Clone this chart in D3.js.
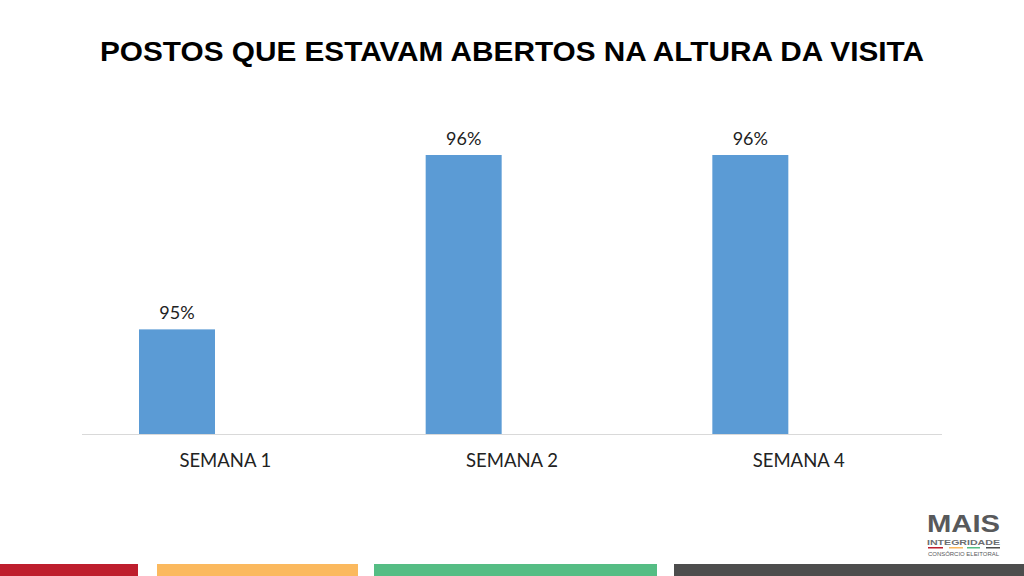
<!DOCTYPE html>
<html><head><meta charset="utf-8">
<script src="https://cdn.jsdelivr.net/npm/d3@7"></script>
<style>body{margin:0;background:#fff}svg{display:block}</style>
</head><body>
<svg id="c" width="1024" height="576"></svg>
<script>
const categories = ["SEMANA 1", "SEMANA 2", "SEMANA 4"];
const values = [0.95, 0.96, 0.96];
const valueLabels = ["95%", "96%", "96%"];
const title = "POSTOS QUE ESTAVAM ABERTOS NA ALTURA DA VISITA";
const footerColors = ["#be1e2d", "#fbb95e", "#55bd84", "#4d4d4d"];

const svg = d3.select("#c");
const x0 = d3.scaleBand().domain(categories).range([82, 942]).padding(0);
const xs = d3.scaleBand().domain(["valor", "vazio"]).range([57, 209]).padding(0);
const y = d3.scaleLinear().domain([0.944, 0.96]).range([434, 155]);

svg.append("text").attr("x", 512).attr("y", 61).attr("text-anchor", "middle")
  .attr("font-family", "Liberation Sans, Arial, sans-serif").attr("font-weight", "bold")
  .attr("font-size", 28).attr("textLength", 824).attr("lengthAdjust", "spacingAndGlyphs")
  .attr("fill", "#000").text(title);

svg.append("line").attr("x1", 82).attr("x2", 942).attr("y1", 434.5).attr("y2", 434.5)
  .attr("stroke", "#d9d9d9").attr("stroke-width", 1);

const g = svg.append("g");
g.selectAll("rect.bar").data(values).join("rect").attr("class", "bar")
  .attr("x", (d, i) => x0(categories[i]) + xs("valor"))
  .attr("width", xs.bandwidth())
  .attr("y", d => y(d)).attr("height", d => y.range()[0] - y(d))
  .attr("fill", "#5b9bd5");

g.selectAll("text.val").data(values).join("text").attr("class", "val")
  .attr("x", (d, i) => x0(categories[i]) + xs("valor") + xs.bandwidth() / 2)
  .attr("y", d => y(d) - 10).attr("text-anchor", "middle")
  .attr("font-family", "Lato, Open Sans, sans-serif").attr("font-size", 18).attr("fill", "#222")
  .text((d, i) => valueLabels[i]);

const xAxis = d3.axisBottom(x0).tickSize(0).tickPadding(0);
const ax = svg.append("g").attr("transform", "translate(0,434)").call(xAxis);
ax.select(".domain").remove();
ax.selectAll("text").attr("y", 33).attr("dy", 0)
  .attr("font-family", "Lato, Open Sans, sans-serif").attr("font-size", 18.5).attr("fill", "#222");

// footer stripes
const footX = [[0, 138], [157, 358], [374, 657], [674, 1024]];
svg.selectAll("rect.foot").data(footX).join("rect").attr("class", "foot")
  .attr("x", d => d[0]).attr("width", d => d[1] - d[0]).attr("y", 564).attr("height", 12)
  .attr("fill", (d, i) => footerColors[i]);

// logo
const logo = svg.append("g");
logo.append("text").attr("x", 963.5).attr("y", 532).attr("text-anchor", "middle")
  .attr("font-family", "Liberation Sans, Arial, sans-serif").attr("font-weight", "bold")
  .attr("font-size", 24).attr("textLength", 73).attr("lengthAdjust", "spacingAndGlyphs")
  .attr("fill", "#58595b").text("MAIS");
logo.append("text").attr("x", 963.5).attr("y", 544.5).attr("text-anchor", "middle")
  .attr("font-family", "Liberation Sans, Arial, sans-serif").attr("font-weight", "bold")
  .attr("font-size", 7).attr("textLength", 73).attr("lengthAdjust", "spacingAndGlyphs")
  .attr("fill", "#6d6e71").text("INTEGRIDADE");
const logoLines = [[928, 943], [949, 963], [967, 980], [986, 1000]];
logo.selectAll("rect").data(logoLines).join("rect")
  .attr("x", d => d[0]).attr("width", d => d[1] - d[0]).attr("y", 547).attr("height", 1.5)
  .attr("fill", (d, i) => footerColors[i]);
logo.append("text").attr("x", 963.5).attr("y", 556).attr("text-anchor", "middle")
  .attr("font-family", "Liberation Sans, Arial, sans-serif")
  .attr("font-size", 5.5).attr("textLength", 71).attr("lengthAdjust", "spacingAndGlyphs")
  .attr("fill", "#58595b").text("CONSÓRCIO ELEITORAL");
</script>
</body></html>
